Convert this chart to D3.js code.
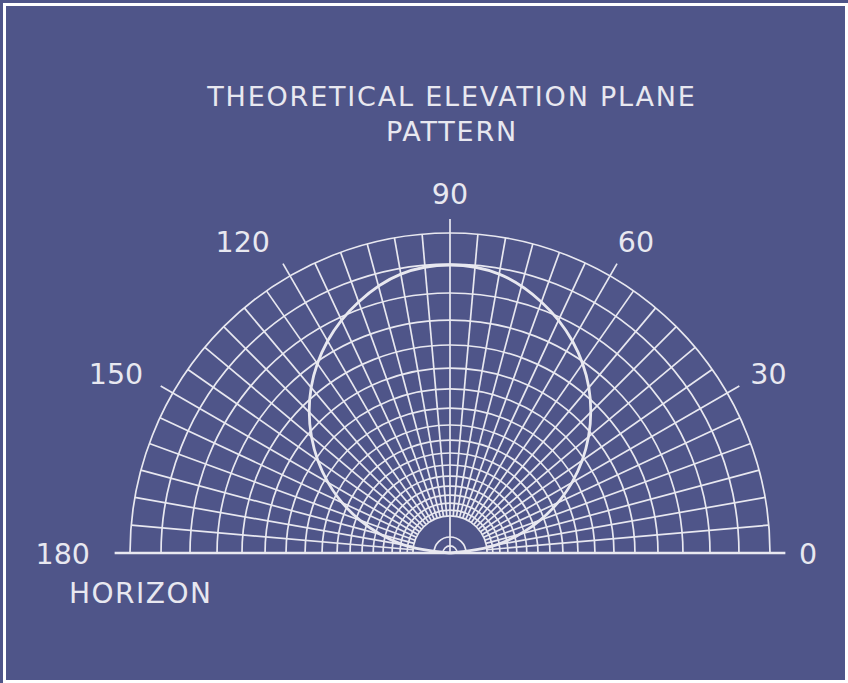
<!DOCTYPE html>
<html>
<head>
<meta charset="utf-8">
<script src="https://cdn.jsdelivr.net/npm/d3@7"></script>
<style>
  html, body { margin: 0; padding: 0; background: #4f5589; }
  svg { display: block; }
</style>
</head>
<body>
<svg id="chart" width="848" height="683"></svg>
<script>
// ---- data ----
const titleLines = ["THEORETICAL ELEVATION PLANE", "PATTERN"];
const axisLabel = "HORIZON";
const angleLabels = [0, 30, 60, 90, 120, 150, 180];
const spokeAngles = d3.range(0, 181, 5);
// relative ring radii (fraction of outer radius)
const ringLevels = [1, 0.903, 0.8125, 0.728, 0.65, 0.578, 0.5125, 0.453, 0.4, 0.353,
                    0.3125, 0.275, 0.24, 0.209, 0.181, 0.156, 0.134, 0.116];
const innerRings = [0.05, 0.022];
// elevation pattern (relative radius) at elevation angles
const patternAngles = [0, 10, 20, 30, 40, 50, 60, 70, 80, 90, 100, 110, 120, 130, 140, 150, 160, 170, 180];
const patternValues = [0, 0.15, 0.30, 0.44, 0.565, 0.675, 0.765, 0.835, 0.885, 0.90,
                       0.885, 0.835, 0.765, 0.675, 0.565, 0.44, 0.30, 0.15, 0];

// ---- layout ----
const W = 848, H = 683;
const cx = 450, cy = 553, R = 320;
const ink = "#e8e8f0";
const svg = d3.select("#chart");

svg.append("rect").attr("x", 0).attr("y", 0).attr("width", W).attr("height", H).attr("fill", "#4f5589");
svg.append("rect").attr("x", 4.5).attr("y", 4.5).attr("width", 842).attr("height", 677)
  .attr("fill", "none").attr("stroke", "#ffffff").attr("stroke-width", 3);

const r = d3.scaleLinear().domain([0, 1]).range([0, R]);
const toRad = d => d * Math.PI / 180;
const px = (deg, rr) => cx + rr * Math.cos(toRad(deg));
const py = (deg, rr) => cy - rr * Math.sin(toRad(deg));

const g = svg.append("g");

// rings
function semi(rr) {
  const p = d3.path();
  p.moveTo(cx + rr, cy);
  p.arc(cx, cy, rr, 0, -Math.PI, true);
  return p.toString();
}
g.selectAll("path.ring").data(ringLevels.concat(innerRings)).join("path")
  .attr("class", "ring")
  .attr("d", d => semi(r(d)))
  .attr("fill", "none").attr("stroke", ink).attr("stroke-width", 1.7);

// spokes
const rInner = r(d3.min(ringLevels));
const rExt = r(1.044);
g.selectAll("line.spoke").data(spokeAngles.filter(a => a !== 0 && a !== 180)).join("line")
  .attr("class", "spoke")
  .attr("x1", a => px(a, a === 90 ? 0 : rInner))
  .attr("y1", a => py(a, a === 90 ? 0 : rInner))
  .attr("x2", a => px(a, angleLabels.includes(a) ? rExt : R))
  .attr("y2", a => py(a, angleLabels.includes(a) ? rExt : R))
  .attr("stroke", ink).attr("stroke-width", 1.7);

// horizon line
g.append("line")
  .attr("x1", px(180, r(1.048))).attr("y1", cy)
  .attr("x2", px(0, r(1.048))).attr("y2", cy)
  .attr("stroke", ink).attr("stroke-width", 2.4);

// pattern
const line = d3.lineRadial()
  .angle((d, i) => Math.PI / 2 - toRad(patternAngles[i]))
  .radius(d => r(d))
  .curve(d3.curveCatmullRom.alpha(0.5));
g.append("path")
  .attr("transform", `translate(${cx},${cy})`)
  .attr("d", line(patternValues))
  .attr("fill", "none").attr("stroke", ink).attr("stroke-width", 2.8);

// angle labels
const font = "DejaVu Sans, sans-serif";
svg.selectAll("text.ang").data(angleLabels).join("text")
  .attr("class", "ang")
  .attr("x", a => a > 90 ? px(a, 360) + (a === 150 ? 5 : 0) : px(a, 362) + (a === 0 ? -4 : a === 90 ? 0 : 5))
  .attr("y", a => py(a, 360) + 11)
  .attr("text-anchor", a => a > 90 ? "end" : "middle")
  .attr("font-family", font).attr("font-size", 28.5)
  .attr("fill", ink)
  .text(d => d);

svg.append("text")
  .attr("x", 69).attr("y", 603)
  .attr("font-family", font).attr("font-size", 28).attr("letter-spacing", 1.5)
  .attr("fill", ink).text(axisLabel);

svg.selectAll("text.title").data(titleLines).join("text")
  .attr("class", "title")
  .attr("x", 452).attr("y", (d, i) => 106 + i * 35)
  .attr("text-anchor", "middle")
  .attr("font-family", font).attr("font-size", 27).attr("letter-spacing", 1.8)
  .attr("fill", ink).text(d => d);
</script>
</body>
</html>
